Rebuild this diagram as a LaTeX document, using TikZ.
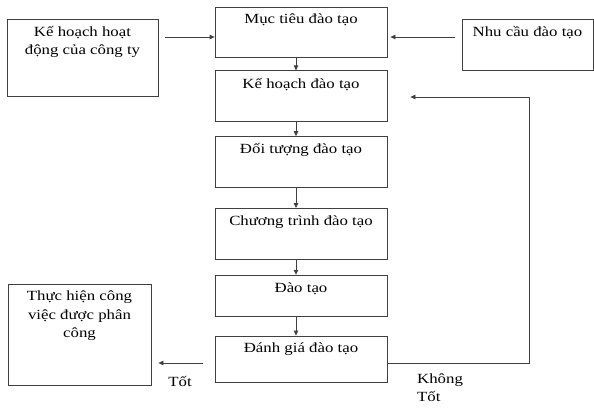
\documentclass[tikz,border=0pt]{standalone}
\usepackage{fontspec}
\setmainfont{Liberation Serif}[FakeStretch=1.2]
\usetikzlibrary{positioning,arrows.meta}

\begin{document}
\begin{tikzpicture}[x=1pt, y=1pt,
  box/.style={draw=black!75, line width=0.8pt, minimum width=172pt, minimum height=51pt, inner sep=0pt},
  txt/.style={anchor=north, yshift=-4pt, align=center, font=\fontsize{14}{18.5}\selectfont},
  note/.style={align=left, inner sep=0pt, font=\fontsize{14}{17.5}\selectfont},
  line/.style={draw=black!75, line width=0.8pt},
  >={Triangle[length=5pt,width=4.5pt]}]
\useasboundingbox (0,0) rectangle (594,-407);
\node[box, minimum height=50pt, label={[txt]north:Mục tiêu đào tạo}] (muctieu) at (301,-32) {};
\node[box, below=13pt of muctieu, label={[txt]north:Kế hoạch đào tạo}] (kehoachdt) {};
\node[box, below=14pt of kehoachdt, label={[txt]north:Đối tượng đào tạo}] (doituong) {};
\node[box, below=20pt of doituong, label={[txt]north:Chương trình đào tạo}] (chuongtrinh) {};
\node[box, minimum height=41pt, below=15pt of chuongtrinh, label={[txt]north:Đào tạo}] (daotao) {};
\node[box, minimum height=46pt, below=19pt of daotao, label={[txt]north:Đánh giá đào tạo}] (danhgia) {};
\node[box, minimum width=151pt, minimum height=77pt, label={[txt]north:Kế hoạch hoạt\\động của công ty}] (kehoachhd) at (82.5,-57.5) {};
\node[box, minimum width=131pt, label={[txt]north:Nhu cầu đào tạo}] (nhucau) at (527.5,-44.5) {};
\node[box, minimum width=143pt, minimum height=101pt, label={[txt]north:Thực hiện công\\việc được phân\\công}] (thuchien) at (79.5,-334.5) {};
\node[note] (tot) at (180,-381) {Tốt};
\node[note, anchor=north west] (khongtot) at (417,-374) {Không\\Tốt};
\coordinate (xline) at (296,0);
\coordinate (vao) at ([yshift=-5pt]muctieu.west);
\coordinate (vaophai) at ([yshift=-5pt]muctieu.east);
\coordinate (ra) at ([yshift=-4pt]danhgia.west);
\coordinate (raphai) at ([yshift=-4pt]danhgia.east);
\coordinate (vong) at (529,-97);
\draw[line, ->, shorten <=7pt] (kehoachhd.east |- vao) -- (vao);
\draw[line, ->, shorten <=7pt, shorten >=3pt] (nhucau.west |- vaophai) -- (vaophai);
\foreach \a/\b in {muctieu/kehoachdt, kehoachdt/doituong, doituong/chuongtrinh, chuongtrinh/daotao, daotao/danhgia}
  \draw[line, ->] (\a.south -| xline) -- (\b.north -| xline);
\draw[line, ->, shorten <=12pt, shorten >=7pt] (ra) -- (thuchien.east |- ra);
\draw[line, ->, shorten >=23pt] (raphai) -| (vong) -- (kehoachdt.east |- vong);
\end{tikzpicture}
\end{document}
